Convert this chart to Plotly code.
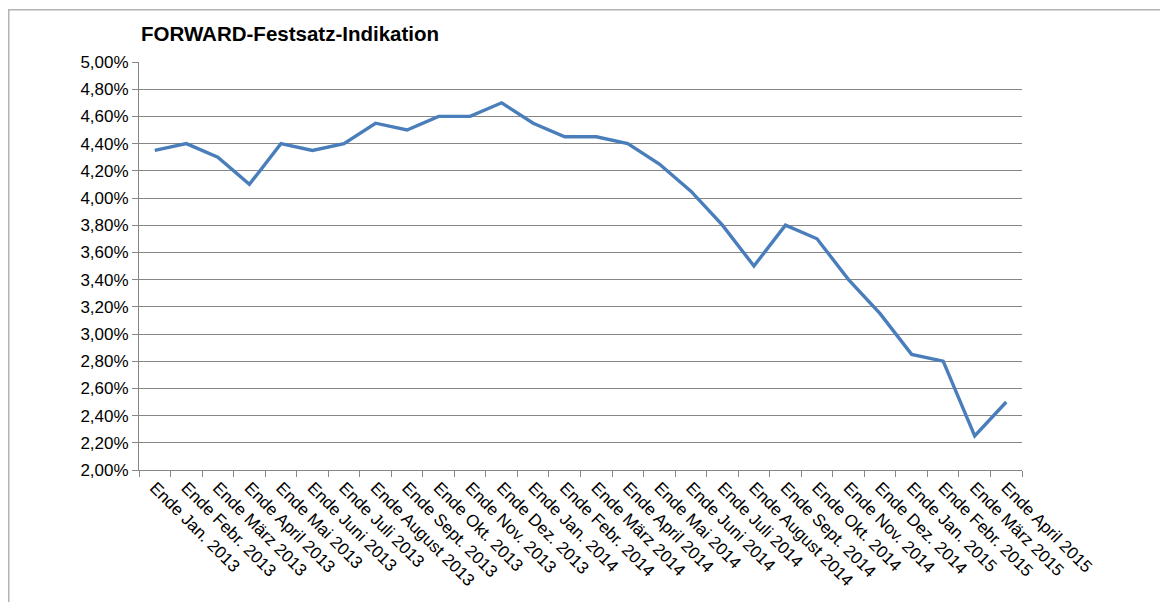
import plotly.graph_objects as go

categories = [
    "Ende Jan. 2013", "Ende Febr. 2013", "Ende März 2013", "Ende April 2013",
    "Ende Mai 2013", "Ende Juni 2013", "Ende Juli 2013", "Ende August 2013",
    "Ende Sept. 2013", "Ende Okt. 2013", "Ende Nov. 2013", "Ende Dez. 2013",
    "Ende Jan. 2014", "Ende Febr. 2014", "Ende März 2014", "Ende April 2014",
    "Ende Mai 2014", "Ende Juni 2014", "Ende Juli 2014", "Ende August 2014",
    "Ende Sept. 2014", "Ende Okt. 2014", "Ende Nov. 2014", "Ende Dez. 2014",
    "Ende Jan. 2015", "Ende Febr. 2015", "Ende März 2015", "Ende April 2015",
]
rates = [
    0.0435, 0.0440, 0.0430, 0.0410, 0.0440, 0.0435, 0.0440, 0.0455,
    0.0450, 0.0460, 0.0460, 0.0470, 0.0455, 0.0445, 0.0445, 0.0440,
    0.0425, 0.0405, 0.0380, 0.0350, 0.0380, 0.0370, 0.0340, 0.0315,
    0.0285, 0.0280, 0.0225, 0.0250,
]
title_text = "FORWARD-Festsatz-Indikation"

# page offset of the figure (browser default body margin)
OFF = 8
W, H = 1168 - OFF, 602 - OFF
L, R, T, B = 139 - OFF, 1022 - OFF, 62 - OFF, 470 - OFF

fig = go.Figure()
fig.add_trace(go.Scatter(
    x=categories, y=rates, mode="lines",
    line=dict(color="#4a7ebb", width=3.4),
    hoverinfo="x+y",
))

pw = R - L
ph = B - T
def px_x(p):
    return (p - L) / pw
def px_y(p):
    return (B - p) / ph

fig.update_layout(
    width=W, height=H,
    margin=dict(l=L, r=W - R, t=T, b=H - B, autoexpand=False),
    paper_bgcolor="white", plot_bgcolor="white",
    separators=",.",
    showlegend=False,
    font=dict(family="Liberation Sans, Arial, sans-serif", color="#000000"),
    title=dict(
        text="<b>" + title_text + "</b>",
        x=(141 - OFF) / W, xanchor="left", xref="container",
        y=1 - (34 - OFF) / H, yanchor="middle", yref="container",
        font=dict(size=20.5, color="#000000"),
    ),
    xaxis=dict(
        type="category",
        range=[-0.5, len(categories) - 0.5],
        showgrid=False,
        showline=True, linecolor="#868686", linewidth=1,
        ticks="outside", tickson="boundaries", ticklen=6, tickcolor="#868686",
        tickangle=45,
        tickfont=dict(size=17, color="#000000"),
        zeroline=False,
        fixedrange=True,
    ),
    yaxis=dict(
        range=[0.02, 0.05],
        dtick=0.002, tick0=0.02,
        tickformat=".2%",
        showgrid=True, gridcolor="#868686", gridwidth=1,
        showline=True, linecolor="#868686", linewidth=1,
        ticks="outside", ticklen=6, tickcolor="#868686",
        tickfont=dict(size=17, color="#000000"),
        zeroline=False,
        fixedrange=True,
    ),
    shapes=[
        dict(type="rect", xref="paper", yref="paper",
             x0=px_x(0.75), x1=px_x(W + 20), y0=px_y(H + 20), y1=px_y(1.75),
             line=dict(color="#b3b3b3", width=1.5), fillcolor="rgba(0,0,0,0)",
             layer="below"),
    ],
)

fig.write_html("out.html")
